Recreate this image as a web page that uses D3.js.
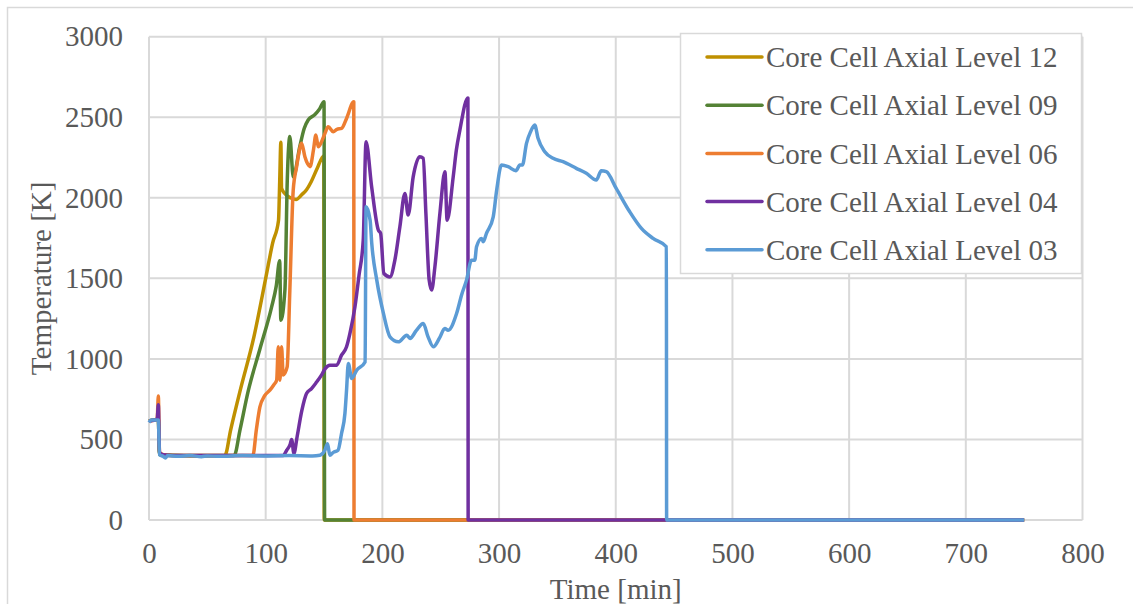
<!DOCTYPE html>
<html lang="en">
  <head>
    <meta charset="UTF-8" />
    <title>Core Cell Temperatures</title>
    <style>
      body { margin: 0; background: #fff; }
      svg { display: block; font-family: "Liberation Serif", "Times New Roman", serif; }
    </style>
  </head>
  <body>
    <div id="chart"></div>
    <script src="https://d3js.org/d3.v7.min.js"></script>
    <script>
      // [time (min), temperature (K)]
      const level12 = [[0,615],[8,625],[9,410],[20,400],[40,398],[65,400],[70,560],[78,800],[90,1140],[100,1500],[106,1720],[111,1860],[112,2100],[113,2345],[113.6,2060],[116,2030],[121,2000],[126,1990],[131,2020],[135,2050],[139,2100],[144,2180],[149.8,2260],[150.2,0],[750,0]];
      const level09 = [[0,615],[8,625],[9,405],[30,400],[73,400],[78,560],[85,800],[95,1060],[105,1320],[109,1450],[112,1610],[113,1240],[116.5,1430],[118.5,2110],[120.7,2380],[123.6,2130],[129.3,2320],[133,2430],[136.4,2483],[142,2515],[146,2550],[150,2596],[150.5,0],[750,0]];
      const level06 = [[0,615],[7,625],[8,770],[9,420],[12,405],[20,400],[89,400],[92,560],[95,700],[99,770],[103.6,806],[107,840],[109.4,868],[110.8,1075],[112.2,868],[113.6,1075],[115,900],[118.4,950],[120.7,1427],[123.6,2048],[126.5,2193],[128,2260],[130.8,2338],[133.6,2255],[136,2210],[138,2193],[141,2300],[143,2390],[145,2317],[148,2350],[150.8,2400],[153.6,2441],[157.9,2410],[161,2425],[165,2431],[169.3,2493],[175.5,2596],[175.7,0],[750,0]];
      const level04 = [[0,615],[7,625],[8,715],[9,420],[12,405],[20,400],[60,400],[115,400],[118,433],[121,470],[122.2,500],[124.2,414],[127,520],[131,680],[135,785],[139.3,816],[143,850],[147.8,899],[151,940],[155,961],[160.8,961],[165,1023],[169.3,1075],[172.2,1158],[176.5,1323],[180,1520],[183.6,1737],[186,2348],[190.8,2068],[196.5,1800],[198.5,1779],[201.3,1530],[206.5,1509],[210.7,1613],[215,1820],[219.3,2027],[222.1,1893],[226.4,2130],[232.1,2255],[235,2245],[237.3,1903],[240.1,1489],[242.2,1427],[245,1571],[249.3,1903],[253.6,2161],[255.5,1861],[260.7,2130],[263.4,2296],[266.4,2420],[273.3,2620],[273.5,0],[750,0]];
      const level03 = [[0,605],[2,620],[8,620],[9,405],[12,395],[14,385],[16,400],[25,395],[35,400],[45,393],[50,398],[60,395],[80,400],[100,398],[120,400],[140,398],[146.5,402],[150.7,433],[153,474],[155,402],[158,420],[162,433],[165,537],[167.9,661],[169.3,806],[170.8,971],[173.7,878],[178,930],[185.2,981],[186,1944],[189.5,1861],[190.9,1717],[195.2,1489],[200.9,1282],[206.5,1137],[213.7,1106],[220.9,1147],[223.7,1127],[229,1175],[235,1220],[239,1140],[243.7,1075],[249,1130],[253.5,1189],[256.4,1178],[263.6,1282],[268,1400],[272.1,1489],[276.4,1613],[279.2,1613],[280.7,1696],[285,1748],[286.4,1727],[289.2,1779],[295,1882],[298,2050],[302.1,2203],[307.8,2193],[314.4,2168],[317.8,2203],[320,2203],[323.5,2338],[327,2410],[330.6,2452],[333.4,2369],[339.2,2286],[346.3,2245],[354.8,2224],[366.2,2183],[374.8,2152],[383.3,2110],[387.6,2168],[391.9,2162],[400.4,2058],[412,1913],[422,1810],[432,1748],[443.4,1696],[443.6,0],[750,0]];

      const seriesNames = ["Core Cell Axial Level 12", "Core Cell Axial Level 09", "Core Cell Axial Level 06", "Core Cell Axial Level 04", "Core Cell Axial Level 03"];
      const seriesData = [level12, level09, level06, level04, level03];
      const seriesColors = ["#bf9000", "#548235", "#ed7d31", "#7030a0", "#5b9bd5"];

      const xTicks = [0, 100, 200, 300, 400, 500, 600, 700, 800];
      const yTicks = [0, 500, 1000, 1500, 2000, 2500, 3000];

      const width = 1133, height = 604;
      const plot = { left: 149, right: 1082.5, top: 36.7, bottom: 520 };
      const textColor = "#595959", gridColor = "#d9d9d9", fontSize = 29;

      const x = d3.scaleLinear().domain([0, 800]).range([plot.left, plot.right]);
      const y = d3.scaleLinear().domain([0, 3000]).range([plot.bottom, plot.top]);

      const svg = d3.select("#chart").append("svg")
        .attr("width", width)
        .attr("height", height);

      // chart frame
      svg.append("rect")
        .attr("x", 7.5).attr("y", 7.5)
        .attr("width", width + 20).attr("height", height + 20)
        .attr("fill", "#fff")
        .attr("stroke", gridColor)
        .attr("stroke-width", 1.5);

      // gridlines
      svg.append("g").selectAll("line.vgrid")
        .data(xTicks)
        .join("line")
        .attr("x1", d => x(d)).attr("x2", d => x(d))
        .attr("y1", plot.top).attr("y2", plot.bottom)
        .attr("stroke", gridColor)
        .attr("stroke-width", 2);

      svg.append("g").selectAll("line.hgrid")
        .data(yTicks)
        .join("line")
        .attr("x1", plot.left).attr("x2", plot.right)
        .attr("y1", d => y(d)).attr("y2", d => y(d))
        .attr("stroke", gridColor)
        .attr("stroke-width", 2);

      // axes (labels only)
      const fmt = d3.format("d");
      const xAxis = svg.append("g")
        .attr("transform", `translate(0,${plot.bottom})`)
        .call(d3.axisBottom(x).tickValues(xTicks).tickFormat(fmt).tickSize(0).tickPadding(22));
      const yAxis = svg.append("g")
        .attr("transform", `translate(${plot.left},0)`)
        .call(d3.axisLeft(y).tickValues(yTicks).tickFormat(fmt).tickSize(0).tickPadding(26));
      [xAxis, yAxis].forEach(a => {
        a.select(".domain").remove();
        a.selectAll("text")
          .attr("fill", textColor)
          .style("font-size", fontSize + "px")
          .style("font-family", '"Liberation Serif", "Times New Roman", serif');
      });

      svg.append("text")
        .attr("transform", `translate(41,${(plot.top + plot.bottom) / 2}) rotate(-90)`)
        .attr("text-anchor", "middle")
        .attr("dy", "0.35em")
        .attr("fill", textColor)
        .style("font-size", fontSize + "px")
        .text("Temperature [K]");

      svg.append("text")
        .attr("x", (plot.left + plot.right) / 2)
        .attr("y", 599)
        .attr("text-anchor", "middle")
        .attr("fill", textColor)
        .style("font-size", fontSize + "px")
        .text("Time [min]");

      // series
      const line = d3.line().curve(d3.curveMonotoneX).x(d => x(d[0])).y(d => y(d[1]));
      svg.append("g").selectAll("path")
        .data(seriesData)
        .join("path")
        .attr("fill", "none")
        .attr("stroke", (d, i) => seriesColors[i])
        .attr("stroke-width", 3.5)
        .attr("stroke-linejoin", "round")
        .attr("d", line);

      // legend
      const legend = svg.append("g");
      legend.append("rect")
        .attr("x", 680.5).attr("y", 33.5)
        .attr("width", 401).attr("height", 240)
        .attr("fill", "#fff")
        .attr("stroke", gridColor)
        .attr("stroke-width", 1.5);

      const item = legend.selectAll("g.item")
        .data(seriesNames)
        .join("g")
        .attr("class", "item")
        .attr("transform", (d, i) => `translate(0,${57 + i * 48.2})`);
      item.append("line")
        .attr("x1", 707).attr("x2", 762)
        .attr("stroke", (d, i) => seriesColors[i])
        .attr("stroke-width", 3.5)
        .attr("stroke-linecap", "round");
      item.append("text")
        .attr("x", 766)
        .attr("dy", "0.35em")
        .attr("fill", textColor)
        .style("font-size", fontSize + "px")
        .text(d => d);
    </script>
  </body>
</html>
